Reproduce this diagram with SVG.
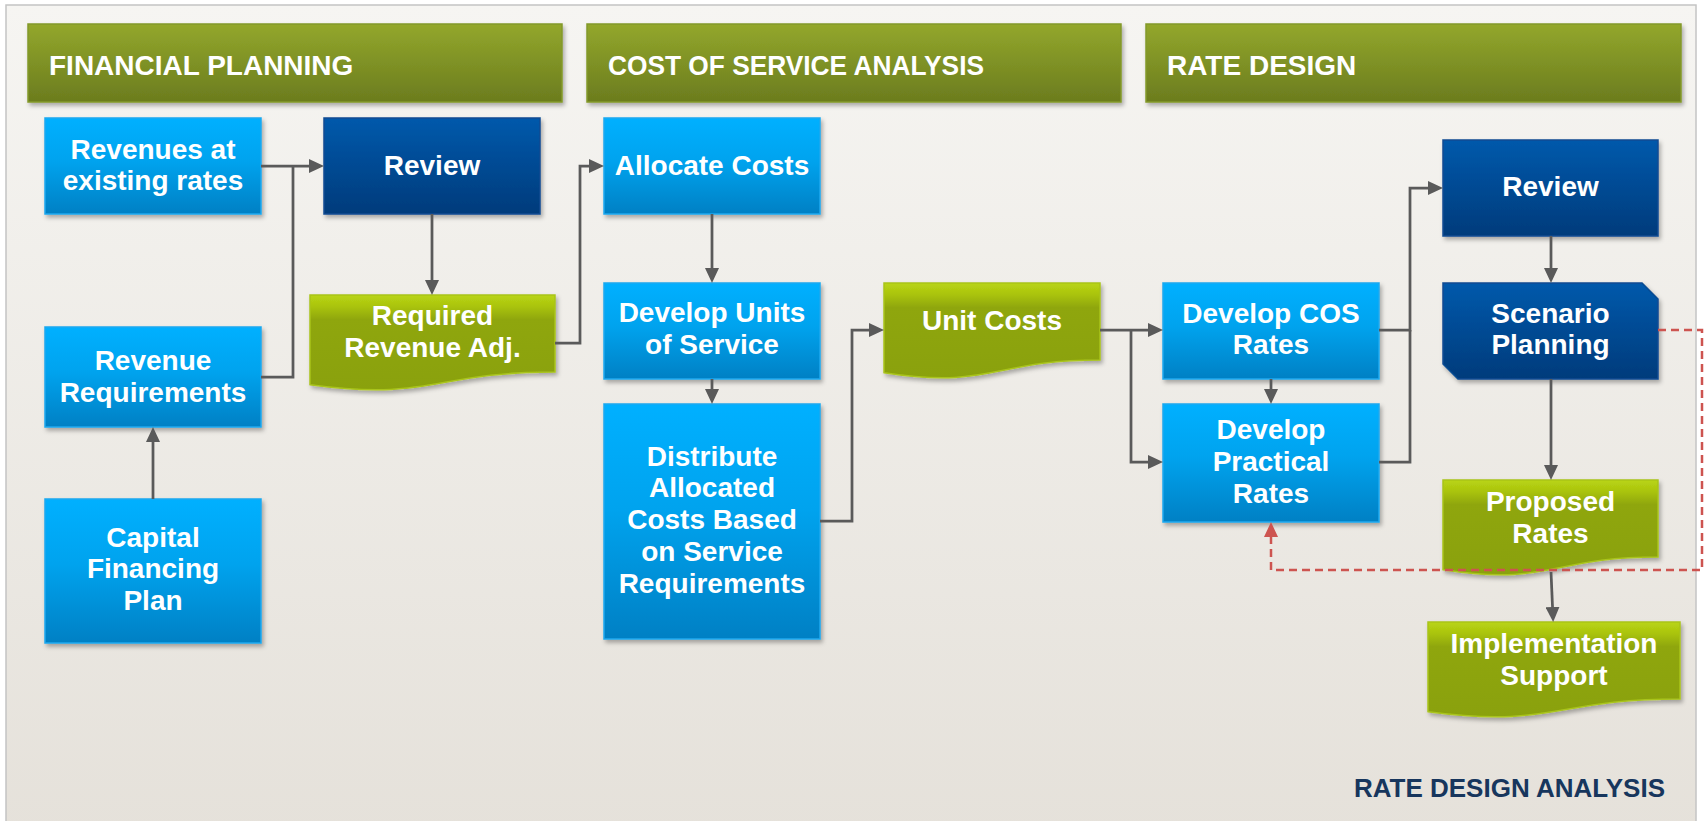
<svg xmlns="http://www.w3.org/2000/svg" width="1705" height="821" viewBox="0 0 1705 821">
  <defs>
    <linearGradient id="gBg" x1="0" y1="0" x2="0" y2="1">
      <stop offset="0" stop-color="#f6f5f2"/>
      <stop offset="1" stop-color="#e5e1da"/>
    </linearGradient>
    <linearGradient id="gHead" x1="0" y1="0" x2="0" y2="1">
      <stop offset="0" stop-color="#93a72c"/>
      <stop offset="1" stop-color="#6b7c1e"/>
    </linearGradient>
    <linearGradient id="gLight" x1="0" y1="0" x2="0" y2="1">
      <stop offset="0" stop-color="#00b0ff"/>
      <stop offset="0.45" stop-color="#00a3ee"/>
      <stop offset="1" stop-color="#0080c4"/>
    </linearGradient>
    <linearGradient id="gDark" x1="0" y1="0" x2="0" y2="1">
      <stop offset="0" stop-color="#0059ab"/>
      <stop offset="1" stop-color="#003b7b"/>
    </linearGradient>
    <linearGradient id="gGreen" x1="0" y1="0" x2="0" y2="1">
      <stop offset="0" stop-color="#b9d513"/>
      <stop offset="0.12" stop-color="#aac410"/>
      <stop offset="0.26" stop-color="#8fa60c"/>
      <stop offset="1" stop-color="#8aa10a"/>
    </linearGradient>
    <filter id="shadow" x="-10%" y="-10%" width="125%" height="130%">
      <feDropShadow dx="2" dy="3" stdDeviation="2" flood-color="#000" flood-opacity="0.3"/>
    </filter>
    <marker id="arrow" markerUnits="userSpaceOnUse" markerWidth="15" markerHeight="14" viewBox="0 0 15 14" refX="11" refY="7" orient="auto">
      <path d="M0,0 L15,7 L0,14 Z" fill="#5a5a5a"/>
    </marker>
    <marker id="arrowRed" markerUnits="userSpaceOnUse" markerWidth="15" markerHeight="14" viewBox="0 0 15 14" refX="11" refY="7" orient="auto">
      <path d="M0,0 L15,7 L0,14 Z" fill="#cd5450"/>
    </marker>
    <style>
      .head { fill: url(#gHead); stroke: #83992a; stroke-width: 1.5; filter: url(#shadow); }
      .light { fill: url(#gLight); stroke: #1aa8ef; stroke-width: 1.5; filter: url(#shadow); }
      .dark { fill: url(#gDark); stroke: #0a4b92; stroke-width: 1.5; filter: url(#shadow); }
      .green { fill: url(#gGreen); stroke: #a9c41c; stroke-width: 1.5; filter: url(#shadow); }
      .htxt { font-family: "Liberation Sans", Arial, sans-serif; font-weight: bold; font-size: 28px; fill: #ffffff; }
      .ntxt { font-family: "Liberation Sans", Arial, sans-serif; font-weight: bold; font-size: 28px; fill: #ffffff; text-anchor: middle; }
      .title { font-family: "Liberation Sans", Arial, sans-serif; font-weight: bold; font-size: 26px; fill: #17365d; text-anchor: end; }
      .conn { fill: none; stroke: #5a5a5a; stroke-width: 2.75; }
      .loop { fill: none; stroke: #cd5450; stroke-width: 2.5; stroke-dasharray: 8 5; }
    </style>
  </defs>

  <!-- panel -->
  <rect x="6" y="5" width="1690" height="830" fill="url(#gBg)" stroke="#c4c4c4" stroke-width="1.5"/>

  <!-- stage headers -->
  <g id="header-financial-planning">
    <rect class="head" x="28" y="24" width="534" height="78"/>
    <text class="htxt" x="49" y="75">FINANCIAL PLANNING</text>
  </g>
  <g id="header-cost-of-service">
    <rect class="head" x="587" y="24" width="534" height="78"/>
    <text class="htxt" x="608" y="75" textLength="376" lengthAdjust="spacingAndGlyphs">COST OF SERVICE ANALYSIS</text>
  </g>
  <g id="header-rate-design">
    <rect class="head" x="1146" y="24" width="535" height="78"/>
    <text class="htxt" x="1167" y="75">RATE DESIGN</text>
  </g>

  <!-- financial planning -->
  <g id="fp-revenues-existing">
    <rect class="light" x="45" y="118" width="216" height="96"/>
    <text class="ntxt"><tspan x="153" y="159">Revenues at</tspan><tspan x="153" y="190">existing rates</tspan></text>
  </g>
  <g id="fp-review">
    <rect class="dark" x="324" y="118" width="216" height="96"/>
    <text class="ntxt" x="432" y="175">Review</text>
  </g>
  <g id="fp-required-adj">
    <path class="green" d="M310,295 H555 V372 C432.5,372 432.5,401.3 310,384.7 Z"/>
    <text class="ntxt"><tspan x="432.5" y="325">Required</tspan><tspan x="432.5" y="357">Revenue Adj.</tspan></text>
  </g>
  <g id="fp-revenue-requirements">
    <rect class="light" x="45" y="327" width="216" height="100"/>
    <text class="ntxt"><tspan x="153" y="370">Revenue</tspan><tspan x="153" y="402">Requirements</tspan></text>
  </g>
  <g id="fp-capital-financing">
    <rect class="light" x="45" y="499" width="216" height="144"/>
    <text class="ntxt"><tspan x="153" y="547">Capital</tspan><tspan x="153" y="578">Financing</tspan><tspan x="153" y="610">Plan</tspan></text>
  </g>

  <!-- cost of service analysis -->
  <g id="cos-allocate-costs">
    <rect class="light" x="604" y="118" width="216" height="96"/>
    <text class="ntxt" x="712" y="175">Allocate Costs</text>
  </g>
  <g id="cos-units-of-service">
    <rect class="light" x="604" y="283" width="216" height="96"/>
    <text class="ntxt"><tspan x="712" y="322">Develop Units</tspan><tspan x="712" y="354">of Service</tspan></text>
  </g>
  <g id="cos-distribute">
    <rect class="light" x="604" y="404" width="216" height="235"/>
    <text class="ntxt"><tspan x="712" y="466">Distribute</tspan><tspan x="712" y="497">Allocated</tspan><tspan x="712" y="529">Costs Based</tspan><tspan x="712" y="561">on Service</tspan><tspan x="712" y="593">Requirements</tspan></text>
  </g>
  <g id="cos-unit-costs">
    <path class="green" d="M884,283 H1100 V360 C992,360 992,389.3 884,372.7 Z"/>
    <text class="ntxt" x="992" y="330">Unit Costs</text>
  </g>

  <!-- rate design -->
  <g id="rd-cos-rates">
    <rect class="light" x="1163" y="283" width="216" height="96"/>
    <text class="ntxt"><tspan x="1271" y="323">Develop COS</tspan><tspan x="1271" y="354">Rates</tspan></text>
  </g>
  <g id="rd-practical-rates">
    <rect class="light" x="1163" y="404" width="216" height="118"/>
    <text class="ntxt"><tspan x="1271" y="439">Develop</tspan><tspan x="1271" y="471">Practical</tspan><tspan x="1271" y="503">Rates</tspan></text>
  </g>
  <g id="rd-review">
    <rect class="dark" x="1443" y="140" width="215" height="96"/>
    <text class="ntxt" x="1550.5" y="196">Review</text>
  </g>
  <g id="rd-scenario-planning">
    <path class="dark" d="M1443,283 H1642 L1658,299 V379 H1458 L1443,364 Z"/>
    <text class="ntxt"><tspan x="1550.5" y="323">Scenario</tspan><tspan x="1550.5" y="354">Planning</tspan></text>
  </g>
  <g id="rd-proposed-rates">
    <path class="green" d="M1443,480 H1658 V557 C1550.5,557 1550.5,586.3 1443,569.7 Z"/>
    <text class="ntxt"><tspan x="1550.5" y="511">Proposed</tspan><tspan x="1550.5" y="543">Rates</tspan></text>
  </g>
  <g id="rd-implementation">
    <path class="green" d="M1428,622 H1680 V699 C1554,699 1554,728.3 1428,711.7 Z"/>
    <text class="ntxt"><tspan x="1554" y="653">Implementation</tspan><tspan x="1554" y="685">Support</tspan></text>
  </g>

  <!-- connectors -->
  <g id="connectors">
    <path class="conn" d="M261,166 H320" marker-end="url(#arrow)"/>
    <path class="conn" d="M261,377 H293 V166"/>
    <path class="conn" d="M153,499 V431" marker-end="url(#arrow)"/>
    <path class="conn" d="M432,214 V291" marker-end="url(#arrow)"/>
    <path class="conn" d="M555,343 H580 V166 H600" marker-end="url(#arrow)"/>
    <path class="conn" d="M712,214 V279" marker-end="url(#arrow)"/>
    <path class="conn" d="M712,379 V400" marker-end="url(#arrow)"/>
    <path class="conn" d="M820,521 H852 V330 H880" marker-end="url(#arrow)"/>
    <path class="conn" d="M1100,330 H1159" marker-end="url(#arrow)"/>
    <path class="conn" d="M1131,330 V462 H1159" marker-end="url(#arrow)"/>
    <path class="conn" d="M1271,379 V400" marker-end="url(#arrow)"/>
    <path class="conn" d="M1379,330 H1410 V188 H1439" marker-end="url(#arrow)"/>
    <path class="conn" d="M1379,462 H1410 V330"/>
    <path class="conn" d="M1551,236 V279" marker-end="url(#arrow)"/>
    <path class="conn" d="M1551,379 V476" marker-end="url(#arrow)"/>
    <path class="conn" d="M1551,572 L1553,618" marker-end="url(#arrow)"/>
    <path class="loop" d="M1658,330 H1702 V570 H1271 V526" marker-end="url(#arrowRed)"/>
  </g>

  <text class="title" x="1665" y="797">RATE DESIGN ANALYSIS</text>
</svg>
